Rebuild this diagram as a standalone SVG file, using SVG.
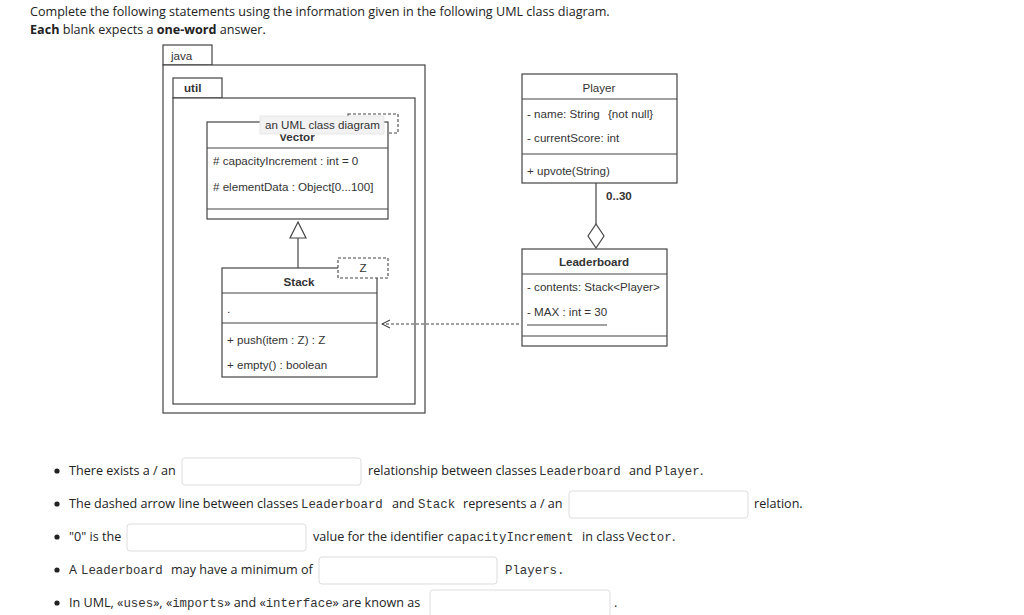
<svg xmlns="http://www.w3.org/2000/svg" width="1024" height="615" viewBox="0 0 1024 615">
<defs>
<style>
.q{font-family:"Open Sans","Liberation Sans",sans-serif;font-size:12.6px;fill:#222}
.b{font-weight:bold}
.m{font-family:"Liberation Mono",monospace;font-size:12.4px;fill:#333}
.d{font-family:"Liberation Sans",Arial,sans-serif;font-size:11.6px;fill:#333}
.box{fill:#fff;stroke:#444;stroke-width:1.2}
.ln{stroke:#444;stroke-width:1.2;fill:none}
.dash{stroke:#444;stroke-width:1.1;fill:#fff;stroke-dasharray:3,2}
.inp{fill:#fff;stroke:#ddd;stroke-width:1}
</style>
<marker id="open" markerWidth="10" markerHeight="10" refX="9" refY="5" orient="auto" markerUnits="userSpaceOnUse">
<path d="M1,1 L9,5 L1,9" fill="none" stroke="#444" stroke-width="1.1"/>
</marker>
</defs>
<rect width="1024" height="615" fill="#fff"/>
<text class="q" x="30" y="16">Complete the following statements using the information given in the following UML class diagram.</text>
<text class="q" x="30" y="34"><tspan class="b">Each</tspan> blank expects a <tspan class="b">one-word</tspan> answer.</text>

<g id="pkg-java">
<rect class="box" x="163" y="45" width="49" height="20"/>
<rect class="box" x="163" y="65" width="262" height="348"/>
<text class="d" x="171" y="60">java</text>
</g>
<g id="pkg-util">
<rect class="box" x="173" y="78" width="49" height="20"/>
<rect class="box" x="173" y="98" width="242" height="306"/>
<text class="d b" x="184" y="92">util</text>
</g>

<g id="vector">
<rect class="dash" x="348" y="114" width="50" height="19"/>
<rect class="box" x="207" y="122" width="181" height="97"/>
<line class="ln" x1="207" y1="148" x2="388" y2="148"/>
<line class="ln" x1="207" y1="209" x2="388" y2="209"/>
<text class="d b" x="297" y="141" text-anchor="middle">Vector</text>
<text class="d" x="213" y="165"># capacityIncrement : int = 0</text>
<text class="d" x="213" y="191"># elementData : Object[0...100]</text>
<rect x="260" y="116" width="124" height="18" fill="#f2f2f2" stroke="#e4e4e4" stroke-width="0.8"/>
<text class="d" x="265" y="129">an UML class diagram</text>
</g>

<g id="stack">
<rect class="box" x="222" y="268" width="155" height="109"/>
<line class="ln" x1="222" y1="293" x2="377" y2="293"/>
<line class="ln" x1="222" y1="323" x2="377" y2="323"/>
<rect class="dash" x="338" y="258" width="50" height="20"/>
<text class="d" x="363" y="272" text-anchor="middle">Z</text>
<text class="d b" x="299" y="286" text-anchor="middle">Stack</text>
<text class="d" x="227" y="313">.</text>
<text class="d" x="227" y="344">+ push(item : Z) : Z</text>
<text class="d" x="227" y="369">+ empty() : boolean</text>
</g>

<g id="player">
<rect class="box" x="522" y="74" width="155" height="109"/>
<line class="ln" x1="522" y1="99" x2="677" y2="99"/>
<line class="ln" x1="522" y1="154" x2="677" y2="154"/>
<text class="d" x="599" y="92" text-anchor="middle">Player</text>
<text class="d" x="527" y="118">- name: String<tspan x="608">{not null}</tspan></text>
<text class="d" x="527" y="142">- currentScore: int</text>
<text class="d" x="527" y="175">+ upvote(String)</text>
</g>

<g id="leaderboard">
<rect class="box" x="522" y="249" width="145" height="97"/>
<line class="ln" x1="522" y1="274" x2="667" y2="274"/>
<line class="ln" x1="522" y1="336" x2="667" y2="336"/>
<text class="d b" x="594" y="266" text-anchor="middle">Leaderboard</text>
<text class="d" x="527" y="291">- contents: Stack&lt;Player&gt;</text>
<text class="d" x="527" y="316">- MAX : int = 30</text>
<line class="ln" x1="527" y1="325" x2="607" y2="325"/>
</g>

<g id="connectors">
<line class="ln" x1="298" y1="238" x2="298" y2="268"/>
<path d="M298,222 L306,238 L290,238 Z" fill="#fff" stroke="#444" stroke-width="1.2"/>
<line class="ln" x1="596" y1="183" x2="596" y2="224"/>
<path d="M596,224 L604,236 L596,248 L588,236 Z" fill="#fff" stroke="#444" stroke-width="1.2"/>
<text class="d b" x="606" y="200">0..30</text>
<line x1="519" y1="324" x2="382" y2="324" stroke="#444" stroke-width="1.1" stroke-dasharray="3,2" marker-end="url(#open)"/>
</g>

<g id="questions">
<circle cx="57" cy="471" r="2.6" fill="#222"/>
<text class="q" x="69" y="475">There exists a / an</text>
<rect class="inp" x="182" y="458" width="179" height="27" rx="3"/>
<text class="q" x="368" y="475">relationship between classes</text>
<text class="m" x="539" y="475">Leaderboard</text>
<text class="q" x="629" y="475">and</text>
<text class="m" x="655" y="475">Player</text>
<text class="q" x="700" y="475">.</text>

<circle cx="57" cy="504" r="2.6" fill="#222"/>
<text class="q" x="69" y="508">The dashed arrow line between classes</text>
<text class="m" x="301" y="508">Leaderboard</text>
<text class="q" x="392" y="508">and</text>
<text class="m" x="418" y="508">Stack</text>
<text class="q" x="463" y="508">represents a / an</text>
<rect class="inp" x="569" y="491" width="179" height="27" rx="3"/>
<text class="q" x="754" y="508">relation.</text>

<circle cx="57" cy="537" r="2.6" fill="#222"/>
<text class="q" x="69" y="541">"0" is the</text>
<rect class="inp" x="127" y="524" width="179" height="27" rx="3"/>
<text class="q" x="313" y="541">value for the identifier</text>
<text class="m" x="447" y="541">capacityIncrement</text>
<text class="q" x="582" y="541">in class</text>
<text class="m" x="627" y="541">Vector</text>
<text class="q" x="672" y="541">.</text>

<circle cx="57" cy="570" r="2.6" fill="#222"/>
<text class="q" x="69" y="574">A</text>
<text class="m" x="81" y="574">Leaderboard</text>
<text class="q" x="171" y="574">may have a minimum of</text>
<rect class="inp" x="319" y="557" width="178" height="27" rx="3"/>
<text class="m" x="505" y="574">Players.</text>

<circle cx="57" cy="603" r="2.6" fill="#222"/>
<text class="q" x="69" y="607">In UML, «<tspan class="m">uses</tspan>», «<tspan class="m">imports</tspan>» and «<tspan class="m">interface</tspan>» are known as</text>
<rect class="inp" x="430" y="590" width="180" height="27" rx="3"/>
<text class="q" x="614" y="607">.</text>
</g>
</svg>
